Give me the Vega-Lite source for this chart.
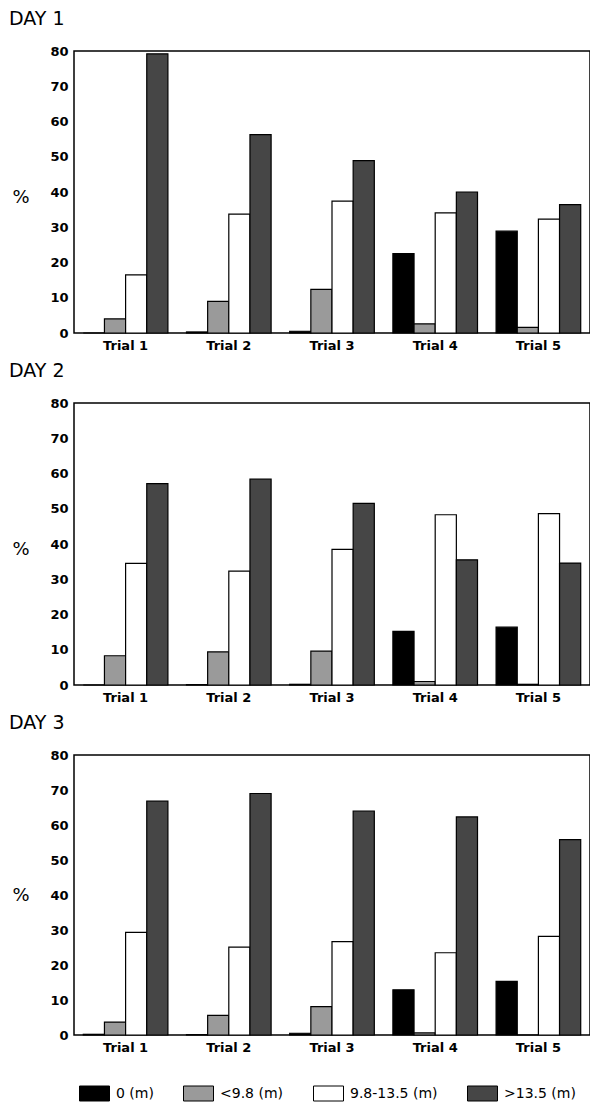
{
  "$schema": "https://vega.github.io/schema/vega-lite/v6.json",
  "width": 590,
  "height": 1106,
  "padding": {"left": 8, "top": 9, "right": 0, "bottom": 0},
  "background": "white",
  "data": {"values": [
    {"day": "DAY 1", "trial": "Trial 1", "cat": "0 (m)", "pct": 0},
    {"day": "DAY 1", "trial": "Trial 1", "cat": "<9.8 (m)", "pct": 4.0},
    {"day": "DAY 1", "trial": "Trial 1", "cat": "9.8-13.5 (m)", "pct": 16.5},
    {"day": "DAY 1", "trial": "Trial 1", "cat": ">13.5 (m)", "pct": 79.2},
    {"day": "DAY 1", "trial": "Trial 2", "cat": "0 (m)", "pct": 0.3},
    {"day": "DAY 1", "trial": "Trial 2", "cat": "<9.8 (m)", "pct": 9.0},
    {"day": "DAY 1", "trial": "Trial 2", "cat": "9.8-13.5 (m)", "pct": 33.7},
    {"day": "DAY 1", "trial": "Trial 2", "cat": ">13.5 (m)", "pct": 56.3},
    {"day": "DAY 1", "trial": "Trial 3", "cat": "0 (m)", "pct": 0.5},
    {"day": "DAY 1", "trial": "Trial 3", "cat": "<9.8 (m)", "pct": 12.4},
    {"day": "DAY 1", "trial": "Trial 3", "cat": "9.8-13.5 (m)", "pct": 37.4},
    {"day": "DAY 1", "trial": "Trial 3", "cat": ">13.5 (m)", "pct": 48.9},
    {"day": "DAY 1", "trial": "Trial 4", "cat": "0 (m)", "pct": 22.5},
    {"day": "DAY 1", "trial": "Trial 4", "cat": "<9.8 (m)", "pct": 2.6},
    {"day": "DAY 1", "trial": "Trial 4", "cat": "9.8-13.5 (m)", "pct": 34.1},
    {"day": "DAY 1", "trial": "Trial 4", "cat": ">13.5 (m)", "pct": 40.0},
    {"day": "DAY 1", "trial": "Trial 5", "cat": "0 (m)", "pct": 28.9},
    {"day": "DAY 1", "trial": "Trial 5", "cat": "<9.8 (m)", "pct": 1.6},
    {"day": "DAY 1", "trial": "Trial 5", "cat": "9.8-13.5 (m)", "pct": 32.3},
    {"day": "DAY 1", "trial": "Trial 5", "cat": ">13.5 (m)", "pct": 36.4},
    {"day": "DAY 2", "trial": "Trial 1", "cat": "0 (m)", "pct": 0},
    {"day": "DAY 2", "trial": "Trial 1", "cat": "<9.8 (m)", "pct": 8.3},
    {"day": "DAY 2", "trial": "Trial 1", "cat": "9.8-13.5 (m)", "pct": 34.5},
    {"day": "DAY 2", "trial": "Trial 1", "cat": ">13.5 (m)", "pct": 57.1},
    {"day": "DAY 2", "trial": "Trial 2", "cat": "0 (m)", "pct": 0.1},
    {"day": "DAY 2", "trial": "Trial 2", "cat": "<9.8 (m)", "pct": 9.4},
    {"day": "DAY 2", "trial": "Trial 2", "cat": "9.8-13.5 (m)", "pct": 32.3},
    {"day": "DAY 2", "trial": "Trial 2", "cat": ">13.5 (m)", "pct": 58.4},
    {"day": "DAY 2", "trial": "Trial 3", "cat": "0 (m)", "pct": 0.2},
    {"day": "DAY 2", "trial": "Trial 3", "cat": "<9.8 (m)", "pct": 9.6},
    {"day": "DAY 2", "trial": "Trial 3", "cat": "9.8-13.5 (m)", "pct": 38.5},
    {"day": "DAY 2", "trial": "Trial 3", "cat": ">13.5 (m)", "pct": 51.5},
    {"day": "DAY 2", "trial": "Trial 4", "cat": "0 (m)", "pct": 15.2},
    {"day": "DAY 2", "trial": "Trial 4", "cat": "<9.8 (m)", "pct": 1.0},
    {"day": "DAY 2", "trial": "Trial 4", "cat": "9.8-13.5 (m)", "pct": 48.3},
    {"day": "DAY 2", "trial": "Trial 4", "cat": ">13.5 (m)", "pct": 35.5},
    {"day": "DAY 2", "trial": "Trial 5", "cat": "0 (m)", "pct": 16.4},
    {"day": "DAY 2", "trial": "Trial 5", "cat": "<9.8 (m)", "pct": 0.2},
    {"day": "DAY 2", "trial": "Trial 5", "cat": "9.8-13.5 (m)", "pct": 48.6},
    {"day": "DAY 2", "trial": "Trial 5", "cat": ">13.5 (m)", "pct": 34.6},
    {"day": "DAY 3", "trial": "Trial 1", "cat": "0 (m)", "pct": 0.2},
    {"day": "DAY 3", "trial": "Trial 1", "cat": "<9.8 (m)", "pct": 3.7},
    {"day": "DAY 3", "trial": "Trial 1", "cat": "9.8-13.5 (m)", "pct": 29.3},
    {"day": "DAY 3", "trial": "Trial 1", "cat": ">13.5 (m)", "pct": 66.8},
    {"day": "DAY 3", "trial": "Trial 2", "cat": "0 (m)", "pct": 0.1},
    {"day": "DAY 3", "trial": "Trial 2", "cat": "<9.8 (m)", "pct": 5.6},
    {"day": "DAY 3", "trial": "Trial 2", "cat": "9.8-13.5 (m)", "pct": 25.1},
    {"day": "DAY 3", "trial": "Trial 2", "cat": ">13.5 (m)", "pct": 69.0},
    {"day": "DAY 3", "trial": "Trial 3", "cat": "0 (m)", "pct": 0.5},
    {"day": "DAY 3", "trial": "Trial 3", "cat": "<9.8 (m)", "pct": 8.1},
    {"day": "DAY 3", "trial": "Trial 3", "cat": "9.8-13.5 (m)", "pct": 26.7},
    {"day": "DAY 3", "trial": "Trial 3", "cat": ">13.5 (m)", "pct": 64.0},
    {"day": "DAY 3", "trial": "Trial 4", "cat": "0 (m)", "pct": 12.9},
    {"day": "DAY 3", "trial": "Trial 4", "cat": "<9.8 (m)", "pct": 0.6},
    {"day": "DAY 3", "trial": "Trial 4", "cat": "9.8-13.5 (m)", "pct": 23.5},
    {"day": "DAY 3", "trial": "Trial 4", "cat": ">13.5 (m)", "pct": 62.3},
    {"day": "DAY 3", "trial": "Trial 5", "cat": "0 (m)", "pct": 15.3},
    {"day": "DAY 3", "trial": "Trial 5", "cat": "<9.8 (m)", "pct": 0},
    {"day": "DAY 3", "trial": "Trial 5", "cat": "9.8-13.5 (m)", "pct": 28.2},
    {"day": "DAY 3", "trial": "Trial 5", "cat": ">13.5 (m)", "pct": 55.8}
  ]},
  "spacing": 8,
  "vconcat": [
    {
      "width": 516, "height": 282,
      "title": {"text": "DAY 1", "anchor": "start", "frame": "group", "dx": -65, "offset": 16},
      "transform": [{"filter": "datum.day === 'DAY 1'"}],
      "mark": {"type": "bar", "stroke": "black", "strokeWidth": 1.2},
      "encoding": {
        "x": {"field": "trial", "type": "nominal", "scale": {"paddingInner": 0.18, "paddingOuter": 0.09}, "axis": {"title": null, "labelAngle": 0, "ticks": false, "domain": false, "labelPadding": 6}},
        "xOffset": {"field": "cat", "type": "nominal", "sort": ["0 (m)", "<9.8 (m)", "9.8-13.5 (m)", ">13.5 (m)"]},
        "y": {"field": "pct", "type": "quantitative", "scale": {"domain": [0, 80]}, "axis": {"title": "%", "values": [0,10,20,30,40,50,60,70,80], "grid": false, "ticks": false, "domain": false, "labelPadding": 6, "titleAngle": 0, "titleAlign": "right", "titleBaseline": "middle", "titleX": -45, "titleY": 146}},
        "color": {"field": "cat", "type": "nominal", "sort": ["0 (m)", "<9.8 (m)", "9.8-13.5 (m)", ">13.5 (m)"], "scale": {"domain": ["0 (m)", "<9.8 (m)", "9.8-13.5 (m)", ">13.5 (m)"], "range": ["#000000", "#9a9a9a", "#ffffff", "#464646"]}, "legend": {"title": null, "orient": "none", "direction": "horizontal", "legendX": 5, "legendY": 1027, "symbolType": "M-1,-0.5H1V0.5H-1Z", "symbolSize": 900, "symbolStrokeColor": "black", "symbolStrokeWidth": 1, "symbolOpacity": 1, "columnPadding": 27, "labelFontSize": 14, "labelOffset": 6}}
      }
    },
    {
      "width": 516, "height": 282,
      "title": {"text": "DAY 2", "anchor": "start", "frame": "group", "dx": -65, "offset": 16},
      "transform": [{"filter": "datum.day === 'DAY 2'"}],
      "mark": {"type": "bar", "stroke": "black", "strokeWidth": 1.2},
      "encoding": {
        "x": {"field": "trial", "type": "nominal", "scale": {"paddingInner": 0.18, "paddingOuter": 0.09}, "axis": {"title": null, "labelAngle": 0, "ticks": false, "domain": false, "labelPadding": 6}},
        "xOffset": {"field": "cat", "type": "nominal", "sort": ["0 (m)", "<9.8 (m)", "9.8-13.5 (m)", ">13.5 (m)"]},
        "y": {"field": "pct", "type": "quantitative", "scale": {"domain": [0, 80]}, "axis": {"title": "%", "values": [0,10,20,30,40,50,60,70,80], "grid": false, "ticks": false, "domain": false, "labelPadding": 6, "titleAngle": 0, "titleAlign": "right", "titleBaseline": "middle", "titleX": -45, "titleY": 146}},
        "color": {"field": "cat", "type": "nominal", "sort": ["0 (m)", "<9.8 (m)", "9.8-13.5 (m)", ">13.5 (m)"]}
      }
    },
    {
      "width": 516, "height": 280,
      "title": {"text": "DAY 3", "anchor": "start", "frame": "group", "dx": -65, "offset": 16},
      "transform": [{"filter": "datum.day === 'DAY 3'"}],
      "mark": {"type": "bar", "stroke": "black", "strokeWidth": 1.2},
      "encoding": {
        "x": {"field": "trial", "type": "nominal", "scale": {"paddingInner": 0.18, "paddingOuter": 0.09}, "axis": {"title": null, "labelAngle": 0, "ticks": false, "domain": false, "labelPadding": 6}},
        "xOffset": {"field": "cat", "type": "nominal", "sort": ["0 (m)", "<9.8 (m)", "9.8-13.5 (m)", ">13.5 (m)"]},
        "y": {"field": "pct", "type": "quantitative", "scale": {"domain": [0, 80]}, "axis": {"title": "%", "values": [0,10,20,30,40,50,60,70,80], "grid": false, "ticks": false, "domain": false, "labelPadding": 6, "titleAngle": 0, "titleAlign": "right", "titleBaseline": "middle", "titleX": -45, "titleY": 140}},
        "color": {"field": "cat", "type": "nominal", "sort": ["0 (m)", "<9.8 (m)", "9.8-13.5 (m)", ">13.5 (m)"]}
      }
    }
  ],
  "config": {
    "font": "DejaVu Sans",
    "view": {"stroke": "black", "strokeWidth": 1.5},
    "title": {"fontSize": 19, "fontWeight": "normal", "color": "black"},
    "axis": {"labelFontSize": 13, "labelFontWeight": "bold", "labelColor": "black", "titleFontSize": 18, "titleFontWeight": "normal", "titleColor": "black"},
    "legend": {"labelColor": "black"}
  }
}
